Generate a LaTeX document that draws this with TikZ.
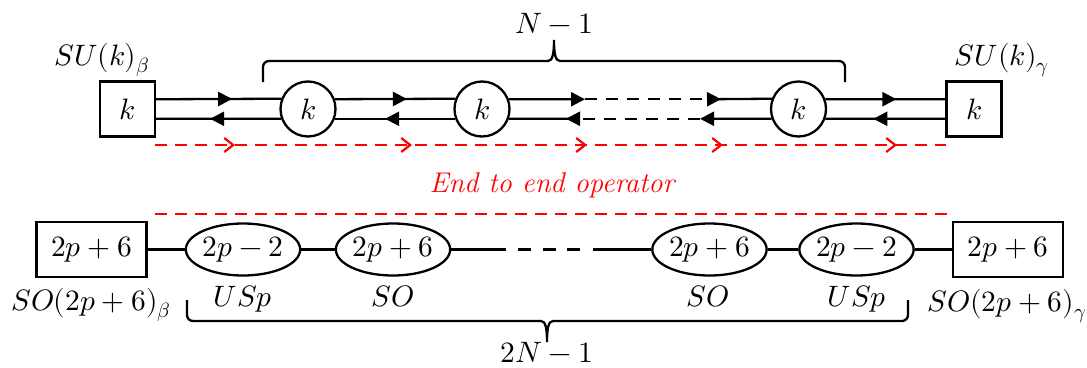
\documentclass[tikz,border=0pt]{standalone}
\usepackage{unicode-math}
\setmathfont{Latin Modern Math}
\usetikzlibrary{arrows.meta,shapes.geometric,decorations.markings}
\begin{document}
\begin{tikzpicture}[x=1pt,y=-1pt,
  bigfont/.style={font=\fontsize{29.5}{34}\selectfont},
  gnode/.style={draw, line width=2.3pt, inner sep=0pt, bigfont},
  sqbox/.style={gnode, rectangle, minimum width=55pt, minimum height=55pt},
  circ/.style={gnode, circle, minimum size=55pt},
  ell/.style={gnode, ellipse, minimum width=106pt, minimum height=52pt},
  flavbox/.style={gnode, rectangle, minimum width=110pt, minimum height=55pt},
  lbl/.style={bigfont, inner sep=0pt, anchor=base},
  edge/.style={line width=2.3pt},
  dashedge/.style={line width=2.3pt, dash pattern=on 12pt off 9pt},
  tri/.tip={Triangle[length=14pt,width=14pt]},
  marr/.style={postaction={decorate, decoration={markings,
      mark=at position #1 with {\arrow{Triangle[length=14pt,width=14pt]}}}}},
  redline/.style={red, line width=2.2pt, dash pattern=on 12pt off 8pt},
  barb/.tip={Straight Barb[length=9pt,width=14pt,line width=2.2pt]},
]
\useasboundingbox (0,0) rectangle (1087,367);

% top row
\node[sqbox] (sqL) at (127.5,109) {$k$};
\node[circ] (c1) at (308,109) {$k$};
\node[circ] (c2) at (482,109) {$k$};
\node[circ] (c3) at (798.5,109) {$k$};
\node[sqbox] (sqR) at (974,109) {$k$};

\coordinate (u1) at (585,99.25);
\coordinate (u2) at (707,99.25);
\coordinate (l1) at (580,118.75);
\coordinate (l2) at (700,118.75);

% upper line (right-pointing)
\draw[edge, marr=76pt] ([yshift=9.75pt]sqL.east) -- (c1.159.2);
\draw[edge, marr=72pt] (c1.20.8) -- (c2.159.2);
\draw[edge, -tri] (c2.20.8) -- (u1);
\draw[dashedge] (u1) -- (u2);
\draw[edge, {tri[reversed]}-] (u2) -- (c3.159.2);
\draw[edge, marr=71pt] (c3.20.8) -- ([yshift=9.75pt]sqR.west);
% lower line (left-pointing)
\draw[edge, marr=71pt] (c1.200.8) -- ([yshift=-9.75pt]sqL.east);
\draw[edge, marr=70pt] (c2.200.8) -- (c1.-20.8);
\draw[edge, {tri[reversed]}-] (l1) -- (c2.-20.8);
\draw[dashedge] (l2) -- (l1);
\draw[edge, -tri] (c3.200.8) -- (l2);
\draw[edge, marr=72pt] ([yshift=-9.75pt]sqR.west) -- (c3.-20.8);

% labels top
\node[lbl] (lSUb) at (102,65) {$SU(k)_\beta$};
\node[lbl] (lSUg) at (1002,65) {$SU(k)_\gamma$};
\node[lbl] (lN) at (554,33) {$N-1$};

% top brace
\draw[edge, rounded corners=6pt] (263,82) -- (263,61) -- (548.5,61);
\draw[edge] (548,61) .. controls (552.5,61) and (554,54) .. (554,40)
            .. controls (554,54) and (555.5,61) .. (560,61);
\draw[edge, rounded corners=6pt] (559.5,61) -- (845,61) -- (845,82);

% red lines
\coordinate (r1) at (155,145);
\coordinate (r2) at (946,145);
\draw[redline, postaction={decorate, decoration={markings,
   mark=at position 80pt with {\arrow[red]{barb}},
   mark=at position 257pt with {\arrow[red]{barb}},
   mark=at position 432pt with {\arrow[red]{barb}},
   mark=at position 568pt with {\arrow[red]{barb}},
   mark=at position 742pt with {\arrow[red]{barb}}}}] (r1) -- (r2);
\node[lbl, red, font=\fontsize{28.5}{34}\selectfont] (eto) at (553,192) {\textit{End to end operator}};
\coordinate (r3) at (155,214);
\coordinate (r4) at (947,214);
\draw[redline] (r3) -- (r4);

% bottom row
\node[flavbox] (bL) at (91.5,249.5) {$2p+6$};
\node[ell] (e1) at (243,249.5) {$2p-2$};
\node[ell] (e2) at (393,249.5) {$2p+6$};
\node[ell] (e3) at (709.5,249.5) {$2p+6$};
\node[ell] (e4) at (856.5,249.5) {$2p-2$};
\node[flavbox] (bR) at (1008,249.5) {$2p+6$};
\coordinate (d1) at (506,249.5);
\coordinate (d2) at (518,249.5);
\coordinate (d3) at (580,249.5);
\coordinate (d4) at (593,249.5);
\draw[edge] (bL) -- (e1);
\draw[edge] (e1) -- (e2);
\draw[edge] (e2) -- (d1);
\draw[edge, dash pattern=on 13pt off 11.5pt] (d2) -- (d3);
\draw[edge] (d4) -- (e3);
\draw[edge] (e3) -- (e4);
\draw[edge] (e4) -- (bR);

\node[lbl] (lSOb) at (91,310) {$SO(2p+6)_\beta$};
\node[lbl] (lSOg) at (1007,311) {$SO(2p+6)_\gamma$};
\node[lbl] (g1) at (243,306) {$USp$};
\node[lbl] (g2) at (393,306) {$SO$};
\node[lbl] (g3) at (708,306) {$SO$};
\node[lbl] (g4) at (857,306) {$USp$};

% bottom brace
\draw[edge, rounded corners=6pt] (187,300) -- (187,321) -- (541.5,321);
\draw[edge] (541,321) .. controls (545.5,321) and (547,328) .. (547,342)
            .. controls (547,328) and (548.5,321) .. (553,321);
\draw[edge, rounded corners=6pt] (552.5,321) -- (908,321) -- (908,300);
\node[lbl] (l2N) at (547,362) {$2N-1$};
\end{tikzpicture}
\end{document}
